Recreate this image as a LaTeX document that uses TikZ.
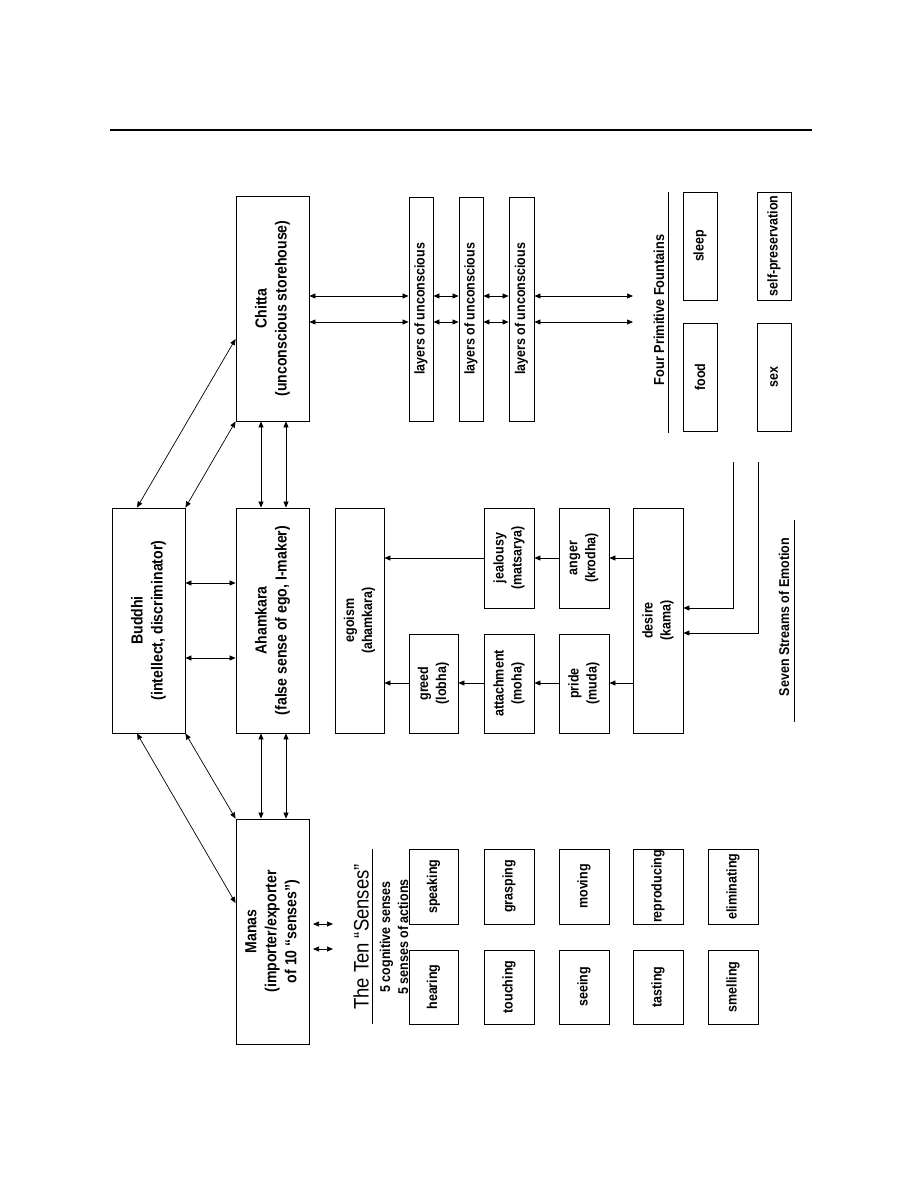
\documentclass[tikz,border=0pt]{standalone}
\usepackage{fontspec}
\setmainfont{Liberation Sans}[FakeStretch=0.88]
\usetikzlibrary{arrows.meta,calc}

\begin{document}
\begin{tikzpicture}[x=1pt,y=-1pt,
 b/.style={draw,line width=0.9pt,rotate=90,align=center,inner sep=0pt,font=\bfseries\fontsize{16}{20}\selectfont},
 s/.style={b,font=\bfseries\fontsize{14.2}{18}\selectfont},
 t/.style={rotate=90,align=center,inner sep=0pt,font=\bfseries\fontsize{14.2}{18}\selectfont},
 a/.style={-{Triangle[length=6pt,width=5pt]},line width=0.7pt},
 aa/.style={{Triangle[length=6pt,width=5pt]}-{Triangle[length=6pt,width=5pt]},line width=0.7pt}
]
\useasboundingbox (0,0) rectangle (918,1188);
\draw[line width=1.5pt] (110,130) -- (812,130);

\node[b,minimum width=225pt,minimum height=73pt] (buddhi) at (148.5,620.5) {Buddhi\\(intellect, discriminator)};
\node[b,minimum width=225pt,minimum height=73pt] (ahamkara) at (272.5,620.5) {Ahamkara\\(false sense of ego, I-maker)};
\node[b,minimum width=225pt,minimum height=73pt] (chitta) at (272.5,308.5) {Chitta\\(unconscious storehouse)};
\node[b,minimum width=225pt,minimum height=73pt] (manas) at (272.5,931.5) {Manas\\(importer/exporter\\of 10 “senses”)};

\node[s,minimum width=224pt,minimum height=24pt] (l1) at (421,309) {layers of unconscious};
\node[s,minimum width=224pt,minimum height=24pt] (l2) at (471,309) {layers of unconscious};
\node[s,minimum width=224pt,minimum height=25pt] (l3) at (521.5,309) {layers of unconscious};
\coordinate (f1) at (633,296);
\coordinate (f2) at (633,322);

\node[t,font=\bfseries\fontsize{14.5}{18}\selectfont] (fountains) at (659,310) {Four Primitive Fountains};
\draw[line width=0.8pt] (668,192) -- (668,433);
\node[s,minimum width=108pt,minimum height=34pt] (food) at (700,377) {food};
\node[s,minimum width=108pt,minimum height=34pt] (sleep) at (700,246) {sleep};
\node[s,minimum width=108pt,minimum height=34pt] (sex) at (774,377) {sex};
\node[s,minimum width=108pt,minimum height=34pt] (selfp) at (774,246) {self-preservation};

\node[s,minimum width=225pt,minimum height=49pt] (egoism) at (359.5,620.5) {egoism\\(ahamkara)};
\node[s,minimum width=99pt,minimum height=49pt] (greed) at (433.5,683.5) {greed\\(lobha)};
\node[s,minimum width=99pt,minimum height=50pt] (attach) at (509,683.5) {attachment\\(moha)};
\node[s,minimum width=99pt,minimum height=50pt] (pride) at (584,683.5) {pride\\(muda)};
\node[s,minimum width=100pt,minimum height=50pt] (jealousy) at (509,558) {jealousy\\(matsarya)};
\node[s,minimum width=100pt,minimum height=50pt] (anger) at (584,558) {anger\\(krodha)};
\node[s,minimum width=225pt,minimum height=50pt] (desire) at (658,620.5) {desire\\(kama)};
\coordinate (k1) at (733,462);
\coordinate (k2) at (758,462);

\node[t] (streams) at (784,617) {Seven Streams of Emotion};
\draw[line width=0.8pt] (794,520) -- (794,722);

\node[t,font=\fontsize{21}{22}\selectfont] (tensenses) at (361,937) {The Ten “Senses”};
\draw[line width=0.8pt] (372,849) -- (372,1024);
\node[t] (kinds) at (394,937) {5 cognitive senses\\5 senses of actions};
\coordinate (m1) at (313,924);
\coordinate (m2) at (333,924);
\coordinate (m3) at (313,949);
\coordinate (m4) at (333,949);

\node[s,minimum width=75pt,minimum height=49pt] (speaking) at (433.5,886.5) {speaking};
\node[s,minimum width=75pt,minimum height=50pt] (grasping) at (509,886.5) {grasping};
\node[s,minimum width=75pt,minimum height=50pt] (moving) at (584,886.5) {moving};
\node[s,minimum width=75pt,minimum height=50pt] (reproducing) at (658,886.5) {reproducing};
\node[s,minimum width=75pt,minimum height=50pt] (eliminating) at (733,886.5) {eliminating};
\node[s,minimum width=74pt,minimum height=49pt] (hearing) at (433.5,987) {hearing};
\node[s,minimum width=74pt,minimum height=50pt] (touching) at (509,987) {touching};
\node[s,minimum width=74pt,minimum height=50pt] (seeing) at (584,987) {seeing};
\node[s,minimum width=74pt,minimum height=50pt] (tasting) at (658,987) {tasting};
\node[s,minimum width=74pt,minimum height=50pt] (smelling) at (733,987) {smelling};

\draw[aa] (buddhi.east -| 137,0) -- (chitta.north |- 0,339);
\draw[aa] (buddhi.south east) -- (chitta.north west);
\draw[aa] (buddhi.west -| 137,0) -- (manas.north |- 0,903);
\draw[aa] (buddhi.south west) -- (manas.north east);
\draw[aa] (buddhi.south |- 0,583) -- (ahamkara.north |- 0,583);
\draw[aa] (buddhi.south |- 0,658) -- (ahamkara.north |- 0,658);
\draw[aa] (chitta.west -| 261,0) -- (ahamkara.east -| 261,0);
\draw[aa] (chitta.west -| 286,0) -- (ahamkara.east -| 286,0);
\draw[aa] (ahamkara.west -| 261,0) -- (manas.east -| 261,0);
\draw[aa] (ahamkara.west -| 286,0) -- (manas.east -| 286,0);

\draw[aa] (chitta.south |- 0,296) -- (l1.north |- 0,296);
\draw[aa] (chitta.south |- 0,322) -- (l1.north |- 0,322);
\draw[aa] (l1.south |- 0,296) -- (l2.north |- 0,296);
\draw[aa] (l1.south |- 0,322) -- (l2.north |- 0,322);
\draw[aa] (l2.south |- 0,296) -- (l3.north |- 0,296);
\draw[aa] (l2.south |- 0,322) -- (l3.north |- 0,322);
\draw[aa] (l3.south |- 0,296) -- (f1);
\draw[aa] (l3.south |- 0,322) -- (f2);

\draw[a] (desire.north |- 0,558) -- (anger.south |- 0,558);
\draw[a] (anger.north |- 0,558) -- (jealousy.south |- 0,558);
\draw[a] (jealousy.north |- 0,558) -- (egoism.south |- 0,558);
\draw[a] (desire.north |- 0,683) -- (pride.south |- 0,683);
\draw[a] (pride.north |- 0,683) -- (attach.south |- 0,683);
\draw[a] (attach.north |- 0,683) -- (greed.south |- 0,683);
\draw[a] (greed.north |- 0,683) -- (egoism.south |- 0,683);
\draw[a] (k1) |- (desire.south |- 0,608);
\draw[a] (k2) |- (desire.south |- 0,633);

\draw[aa] (m1) -- (m2);
\draw[aa] (m3) -- (m4);
\end{tikzpicture}
\end{document}
